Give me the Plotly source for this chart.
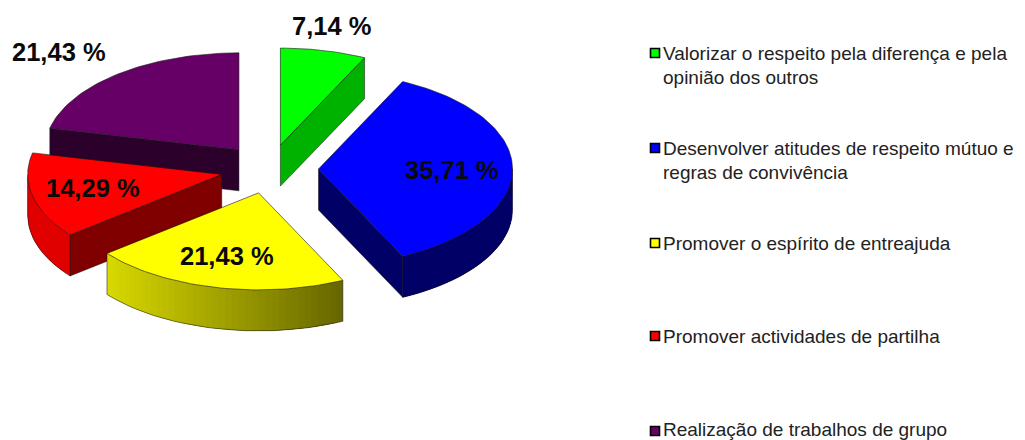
import numpy as np
import plotly.graph_objects as go

CATEGORIES = [
    ["Valorizar o respeito pela diferença e pela", "opinião dos outros"],
    ["Desenvolver atitudes de respeito mútuo e", "regras de convivência"],
    ["Promover o espírito de entreajuda"],
    ["Promover actividades de partilha"],
    ["Realização de trabalhos de grupo"],
]
VALUES = [7.14, 35.71, 21.43, 14.29, 21.43]
TOP_COLORS = [(0, 255, 0), (0, 0, 255), (255, 255, 0), (255, 0, 0), (102, 0, 102)]
CUT_SHADE = [0.70, 0.40, 0.40, 0.50, 0.42]

# pie geometry (pixels on a 1025x440 canvas)
CX, CY, RX, RY, DEPTH = 269.5, 169, 194, 97, 41
PULL = 0.2526
LABEL_XY = [(331, 26), (452, 170), (227, 256), (93, 188), (59, 52)]
LEGEND_KEY_X, LEGEND_TEXT_X = 655, 663
LEGEND_Y = [53, 148, 243, 336, 429]
LEGEND_LINE = 24
DRAW_ORDER = [4, 0, 1, 3, 2]
LABEL_FONT = dict(family="Liberation Sans", size=25.5, color="#0a0a0a")
LEGEND_FONT = dict(family="Liberation Sans", size=19, color="#222222")


def rgb(c, k=1.0):
    return "rgb(%d,%d,%d)" % tuple(int(round(v * k)) for v in c)


def shade(x):
    return float(np.clip(0.85 - (x - 107) * 0.45 / 235, 0.40, 0.88))


def pt(t, ox, oy):
    return ox + RX * np.sin(t), oy - RY * np.cos(t)


def poly(fig, xs, ys, fill, line=None, width=0.0, hover=None):
    fig.add_trace(go.Scatter(
        x=list(xs), y=list(ys), mode="lines", fill="toself", fillcolor=fill,
        line=dict(color=line or fill, width=width),
        hoverinfo="text" if hover else "skip", hovertext=hover, showlegend=False))


fig = go.Figure()
fractions = np.array(VALUES) / sum(VALUES)
edges = np.concatenate([[0], np.cumsum(fractions)]) * 2 * np.pi
OUTLINE = "rgba(20,20,20,0.85)"

for i in DRAW_ORDER:
    t0, t1 = edges[i], edges[i + 1]
    mid = (t0 + t1) / 2
    ox = CX + PULL * RX * np.sin(mid)
    oy = CY - PULL * RY * np.cos(mid)
    c = TOP_COLORS[i]

    # cut faces that look downward
    for t, visible in ((t1, np.sin(t1) > 0), (t0, np.sin(t0) < 0)):
        if visible:
            px, py = pt(t, ox, oy)
            poly(fig, [ox, px, px, ox, ox], [oy, py, py + DEPTH, oy + DEPTH, oy],
                 rgb(c, CUT_SHADE[i]), OUTLINE, 0.6)

    # outer rim: each strip overlaps the next so no seams show
    a, b = max(t0, np.pi / 2), min(t1, 3 * np.pi / 2)
    if b > a:
        ts = np.linspace(a, b, int((b - a) / np.radians(2.0)) + 2)
        rx, ry = pt(ts, ox, oy)
        for j in range(len(ts) - 1):
            seg = np.arange(j, min(j + 4, len(ts)))
            col = rgb(c, shade((rx[j] + rx[j + 1]) / 2))
            poly(fig, np.r_[rx[seg], rx[seg][::-1]], np.r_[ry[seg], ry[seg][::-1] + DEPTH], col)
        fig.add_trace(go.Scatter(
            x=np.r_[rx[0], rx, rx[-1]], y=np.r_[ry[0], ry + DEPTH, ry[-1]],
            mode="lines", line=dict(color=OUTLINE, width=0.6), hoverinfo="skip", showlegend=False))

    # top face
    ts = np.linspace(t0, t1, max(int((t1 - t0) / np.radians(1.5)), 8))
    fx, fy = pt(ts, ox, oy)
    poly(fig, np.r_[ox, fx, ox], np.r_[oy, fy, oy], rgb(c), OUTLINE, 0.7,
         hover=" ".join(CATEGORIES[i]) + ": " + f"{VALUES[i]:.2f} %".replace(".", ","))

# legend keys
fig.add_trace(go.Scatter(
    x=[LEGEND_KEY_X] * len(VALUES), y=[53, 148, 243, 336, 431], mode="markers",
    marker=dict(symbol="square", size=9, color=[rgb(c) for c in TOP_COLORS],
                line=dict(color="#000000", width=1.6)),
    hoverinfo="skip", showlegend=False))

ann = []
for v, (x, y) in zip(VALUES, LABEL_XY):
    ann.append(dict(x=x, y=y, text=f"{v:.2f} %".replace(".", ","), showarrow=False,
                    xanchor="center", yanchor="middle", font=dict(**LABEL_FONT, weight="bold")))
for lines, y in zip(CATEGORIES, LEGEND_Y):
    for k, line in enumerate(lines):
        ann.append(dict(x=LEGEND_TEXT_X, y=y + k * LEGEND_LINE, text=line, showarrow=False,
                        xanchor="left", yanchor="middle", xshift=-2, font=LEGEND_FONT))

fig.update_layout(
    width=1025, height=440, margin=dict(l=0, r=0, t=0, b=0),
    paper_bgcolor="white", plot_bgcolor="white", annotations=ann,
    xaxis=dict(range=[0, 1025], visible=False, fixedrange=True),
    yaxis=dict(range=[440, 0], visible=False, fixedrange=True),
)
fig.write_html("out.html", config=dict(displayModeBar=False),
               post_script="document.body.style.margin='0';")
